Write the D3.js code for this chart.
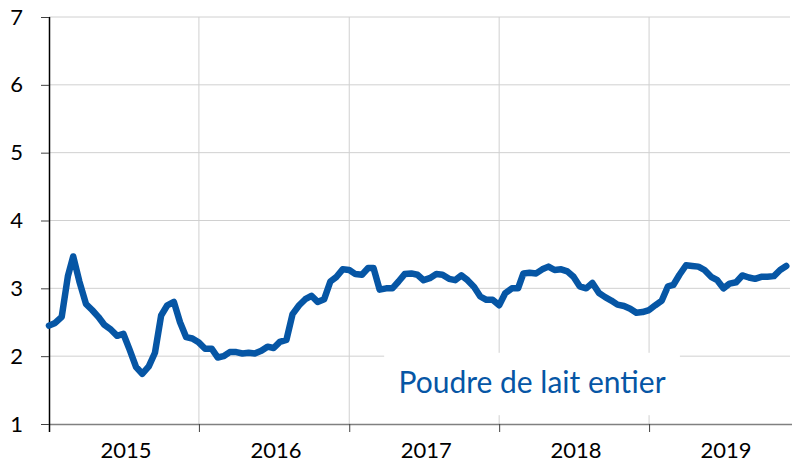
<!DOCTYPE html>
<html>
<head>
<meta charset="utf-8">
<script src="https://cdn.jsdelivr.net/npm/d3@7"></script>
<style>
  html, body { margin: 0; padding: 0; background: #fff; }
  svg { display: block; font-family: Lato, "Open Sans", sans-serif; }
</style>
</head>
<body>
<svg id="chart" width="792" height="462"></svg>
<script>
// ---- data ----
const seriesName = "Poudre de lait entier";
const startYear = 2015;
const yearLabels = ["2015", "2016", "2017", "2018", "2019"];
const yTicks = [1, 2, 3, 4, 5, 6, 7];
// half-monthly observations starting January 2015
const values = [
  2.45, 2.49, 2.58, 3.18, 3.47, 3.10, 2.77, 2.68, 2.58, 2.46, 2.39, 2.30,
  2.33, 2.10, 1.84, 1.74, 1.85, 2.05, 2.60, 2.75, 2.80, 2.50, 2.28, 2.26,
  2.20, 2.11, 2.11, 1.98, 2.00, 2.06, 2.06, 2.04, 2.05, 2.04, 2.08, 2.14,
  2.12, 2.21, 2.24, 2.62, 2.75, 2.84, 2.89, 2.80, 2.84, 3.10, 3.17, 3.28,
  3.27, 3.21, 3.20, 3.30, 3.30, 2.98, 3.00, 3.00, 3.10, 3.21, 3.22, 3.20,
  3.12, 3.15, 3.21, 3.20, 3.14, 3.12, 3.19, 3.12, 3.02, 2.88, 2.83, 2.83,
  2.75, 2.93, 3.00, 3.00, 3.22, 3.23, 3.22, 3.28, 3.32, 3.27, 3.28, 3.25,
  3.17, 3.03, 3.00, 3.08, 2.93, 2.87, 2.82, 2.76, 2.74, 2.70, 2.64, 2.65,
  2.68, 2.75, 2.82, 3.03, 3.05, 3.20, 3.34, 3.33, 3.32, 3.27, 3.17, 3.12,
  3.00, 3.07, 3.09, 3.19, 3.16, 3.14, 3.17, 3.17, 3.18, 3.27, 3.33
];
const dates = values.map((v, i) => new Date(startYear, Math.floor(i / 2), i % 2 ? 16 : 1));
const data = values.map((v, i) => ({ date: dates[i], value: v }));

// ---- layout ----
const svg = d3.select("#chart");
const M = { left: 49, right: 799, top: 17, bottom: 424, gridRight: 790 };
const lineColor = "#0656a5";

const x = d3.scaleTime()
  .domain([new Date(startYear, 0, 1), new Date(startYear + yearLabels.length, 0, 1)])
  .range([M.left, M.right]);
const y = d3.scaleLinear().domain([1, 7]).range([M.bottom, M.top]);

const yearStarts = yearLabels.map((_, i) => new Date(startYear + i, 0, 1));

// horizontal gridlines
svg.append("g").selectAll("line")
  .data(yTicks.filter(t => t > 1))
  .join("line")
  .attr("x1", M.left).attr("x2", M.gridRight)
  .attr("y1", d => y(d)).attr("y2", d => y(d))
  .attr("stroke", "#d0d0d0").attr("stroke-width", 1);

// vertical gridlines
svg.append("g").selectAll("line")
  .data(yearStarts.slice(1))
  .join("line")
  .attr("x1", d => x(d)).attr("x2", d => x(d))
  .attr("y1", M.top).attr("y2", M.bottom)
  .attr("stroke", "#d0d0d0").attr("stroke-width", 1);

// white label box
const boxX0 = x(new Date(2017, 2, 27)), boxX1 = x(new Date(2019, 2, 17));
svg.append("rect")
  .attr("x", boxX0).attr("y", y(2.05))
  .attr("width", boxX1 - boxX0).attr("height", y(1.13) - y(2.05))
  .attr("fill", "#fff");

// x axis
const xAxis = svg.append("g").attr("transform", `translate(0,${M.bottom})`)
  .call(d3.axisBottom(x).tickValues(yearStarts).tickFormat("").tickSizeInner(8).tickSizeOuter(0));
xAxis.select(".domain").attr("stroke", "#808080").attr("stroke-width", 1.5)
  .attr("d", `M${M.left},0.5H792`);
xAxis.selectAll(".tick line").attr("stroke", "#404040");

// x labels centered in each year
svg.append("g").selectAll("text")
  .data(yearLabels)
  .join("text")
  .attr("x", (d, i) => (x(yearStarts[i]) + x(new Date(startYear + i + 1, 0, 1))) / 2 + 2)
  .attr("y", 458)
  .attr("text-anchor", "middle")
  .attr("font-size", 22)
  .attr("fill", "#000")
  .text(d => d);

// y axis
const yAxis = svg.append("g").attr("transform", `translate(${M.left},0)`)
  .call(d3.axisLeft(y).tickValues(yTicks).tickFormat(d3.format("d")).tickSizeInner(8).tickSizeOuter(0).tickPadding(18));
yAxis.select(".domain").attr("stroke", "#000").attr("stroke-width", 1.5)
  .attr("d", `M0.5,${M.top}V${M.bottom + 8}`);
yAxis.selectAll(".tick line").attr("stroke", "#404040");
yAxis.selectAll(".tick text").attr("font-size", 22).attr("fill", "#000")
  .attr("font-family", "Lato, 'Open Sans', sans-serif");

// series line
const line = d3.line().x(d => x(d.date)).y(d => y(d.value));
svg.append("path")
  .datum(data)
  .attr("d", line)
  .attr("fill", "none")
  .attr("stroke", lineColor)
  .attr("stroke-width", 6.5)
  .attr("stroke-linejoin", "round")
  .attr("stroke-linecap", "round");

// series label
svg.append("text")
  .attr("x", (boxX0 + boxX1) / 2)
  .attr("y", 393)
  .attr("text-anchor", "middle")
  .attr("font-size", 30)
  .attr("fill", lineColor)
  .text(seriesName);
</script>
</body>
</html>
